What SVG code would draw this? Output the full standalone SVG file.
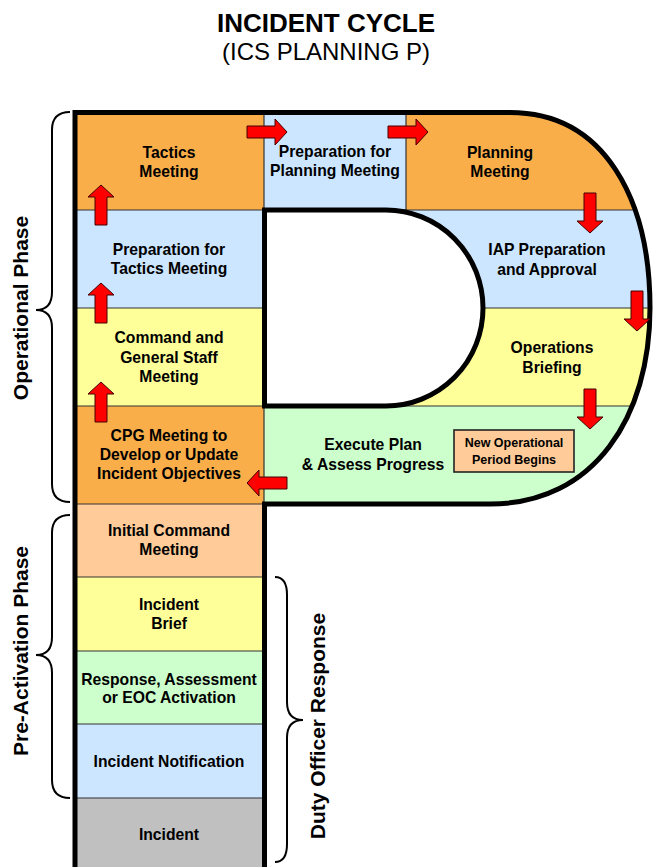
<svg xmlns="http://www.w3.org/2000/svg" width="653" height="867" viewBox="0 0 653 867">
<style>
text{font-family:"Liberation Sans",Arial,sans-serif;fill:#000}
.t{font-size:15.7px;font-weight:bold;text-anchor:middle}
.side{font-size:21px;font-weight:bold;text-anchor:middle}
.or{fill:#FAAE4A}.bl{fill:#CCE6FF}.ye{fill:#FFFF99}.gr{fill:#CCFFCC}.pe{fill:#FFCC99}.gy{fill:#C0C0C0}
.sep{stroke:#333;stroke-width:1.2;fill:none}
.thick{stroke:#000;stroke-width:5;fill:none}
.brace{stroke:#000;stroke-width:2;fill:none}
.arr{fill:#FF0000;stroke:#400;stroke-width:1}
</style>
<defs>
<clipPath id="pclip"><path d="M75,112 H510 C605,112 650,200 650,308 C650,416 595,504 490,504 H264 V870 H75 Z"/></clipPath>
<polygon id="arrow" points="0,0 13,12 6,12 6,40 -6,40 -6,12 -13,12"/>
</defs>

<g id="title">
<text x="326" y="32" style="font-size:26px;font-weight:bold;text-anchor:middle">INCIDENT CYCLE</text>
<text x="326" y="60" style="font-size:24px;text-anchor:middle">(ICS PLANNING P)</text>
</g>

<g clip-path="url(#pclip)">
<g id="tactics-meeting"><rect class="or" x="75" y="112" width="189" height="98"/><text class="t" x="169" y="158">Tactics</text><text class="t" x="169" y="177">Meeting</text></g>
<g id="prep-tactics"><rect class="bl" x="75" y="210" width="189" height="98"/><text class="t" x="169" y="255">Preparation for</text><text class="t" x="169" y="274">Tactics Meeting</text></g>
<g id="cgs-meeting"><rect class="ye" x="75" y="308" width="189" height="98"/><text class="t" x="169" y="343">Command and</text><text class="t" x="169" y="363">General Staff</text><text class="t" x="169" y="382">Meeting</text></g>
<g id="cpg-meeting"><rect class="or" x="75" y="406" width="189" height="98"/><text class="t" x="169" y="441">CPG Meeting to</text><text class="t" x="169" y="460">Develop or Update</text><text class="t" x="169" y="479">Incident Objectives</text></g>
<g id="initial-command"><rect class="pe" x="75" y="504" width="189" height="73"/><text class="t" x="169" y="536">Initial Command</text><text class="t" x="169" y="555">Meeting</text></g>
<g id="incident-brief"><rect class="ye" x="75" y="577" width="189" height="74"/><text class="t" x="169" y="610">Incident</text><text class="t" x="169" y="629">Brief</text></g>
<g id="response"><rect class="gr" x="75" y="651" width="189" height="73"/><text class="t" x="169" y="685">Response, Assessment</text><text class="t" x="169" y="703">or EOC Activation</text></g>
<g id="incident-notification"><rect class="bl" x="75" y="724" width="189" height="74"/><text class="t" x="169" y="767">Incident Notification</text></g>
<g id="incident"><rect class="gy" x="75" y="798" width="189" height="72"/><text class="t" x="169" y="840">Incident</text></g>
<g id="prep-planning"><rect class="bl" x="264" y="112" width="142" height="98"/><text class="t" x="335" y="157">Preparation for</text><text class="t" x="335" y="176">Planning Meeting</text></g>
<g id="planning-meeting"><rect class="or" x="406" y="112" width="260" height="98"/><text class="t" x="500" y="158">Planning</text><text class="t" x="500" y="177">Meeting</text></g>
<g id="iap"><rect class="bl" x="264" y="210" width="402" height="98"/><text class="t" x="547" y="255">IAP Preparation</text><text class="t" x="547" y="275">and Approval</text></g>
<g id="ops-briefing"><rect class="ye" x="264" y="308" width="402" height="98"/><text class="t" x="552" y="353">Operations</text><text class="t" x="552" y="373">Briefing</text></g>
<g id="execute"><rect class="gr" x="264" y="406" width="402" height="98"/><text class="t" x="373" y="450">Execute Plan</text><text class="t" x="373" y="470">&amp; Assess Progress</text></g>
<path class="sep" d="M75,210 H660 M75,308 H660 M75,406 H660 M75,504 H264 M75,577 H264 M75,651 H264 M75,724 H264 M75,798 H264 M264,112 V210 M406,112 V210 M264,406 V504"/>
</g>

<g id="hole"><path d="M264.5,210 H386 A97,98 0 0 1 386,406 H264.5 Z" fill="#fff" stroke="#000" stroke-width="5"/></g>
<path id="outline" class="thick" d="M75,870 V112.5 H510 C605,112.5 650,200 650,308 C650,416 595,504 490,504 H264.5 V870"/>

<g id="new-period"><rect x="454" y="430" width="120" height="42" fill="#FFCC99" stroke="#222" stroke-width="1.6"/><text x="514" y="447" style="font-size:12.5px;font-weight:bold;text-anchor:middle">New Operational</text><text x="514" y="464" style="font-size:12.5px;font-weight:bold;text-anchor:middle">Period Begins</text></g>

<g id="connectors">
<use href="#arrow" class="arr" transform="translate(101,185)"/>
<use href="#arrow" class="arr" transform="translate(101,283)"/>
<use href="#arrow" class="arr" transform="translate(101,382)"/>
<use href="#arrow" class="arr" transform="translate(287,132) rotate(90)"/>
<use href="#arrow" class="arr" transform="translate(428,132) rotate(90)"/>
<use href="#arrow" class="arr" transform="translate(590,233) rotate(180)"/>
<use href="#arrow" class="arr" transform="translate(637,331) rotate(180)"/>
<use href="#arrow" class="arr" transform="translate(590,429) rotate(180)"/>
<use href="#arrow" class="arr" transform="translate(247,483) rotate(-90)"/>
</g>

<g id="phase-labels">
<path class="brace" d="M70,112 Q52,112 52,130 V292 Q52,310 36,310 Q52,310 52,328 V484 Q52,502 70,502"/>
<path class="brace" d="M70,515 Q52,515 52,533 V637 Q52,655 36,655 Q52,655 52,673 V780 Q52,798 70,798"/>
<path class="brace" d="M275,577 Q287,577 287,595 V702 Q287,720 303,720 Q287,720 287,738 V844 Q287,862 275,862"/>
<text class="side" transform="translate(28,308) rotate(-90)">Operational Phase</text>
<text class="side" transform="translate(28,651) rotate(-90)">Pre-Activation Phase</text>
<text class="side" transform="translate(325,726) rotate(-90)">Duty Officer Response</text>
</g>
</svg>
